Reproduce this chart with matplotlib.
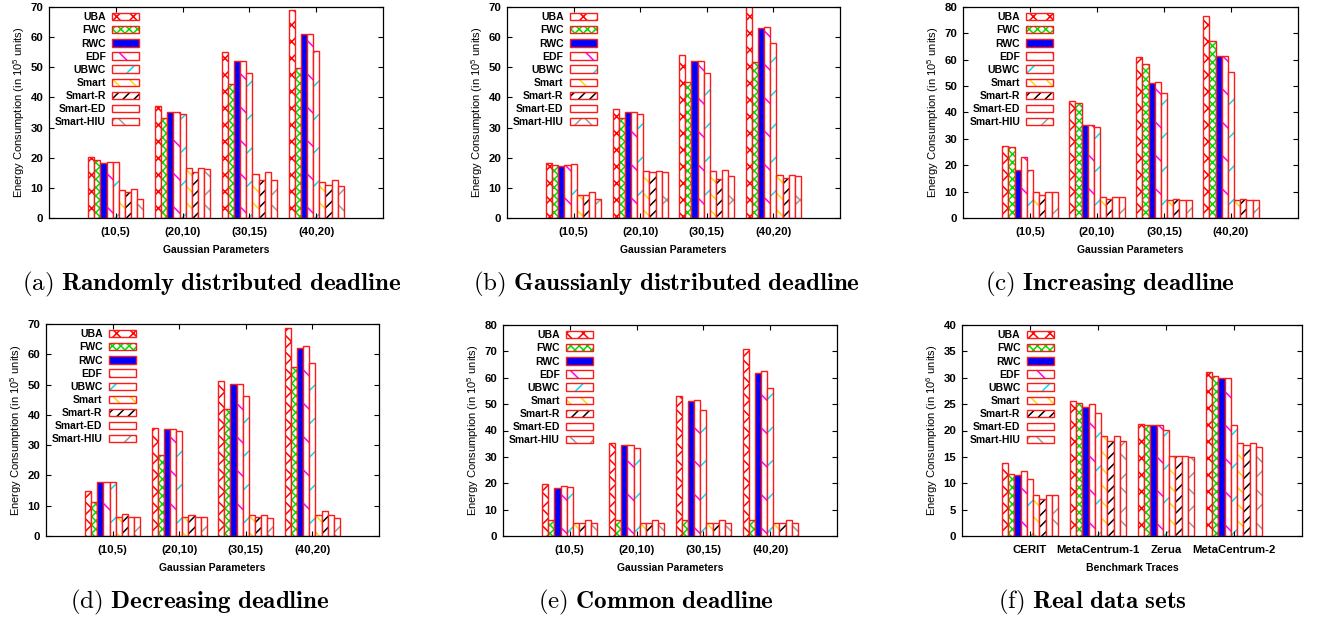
import numpy as np
import matplotlib
matplotlib.use('Agg')
import matplotlib.pyplot as plt
from matplotlib.patches import Patch

plt.rcParams['font.family'] = ['Liberation Sans', 'DejaVu Sans']
plt.rcParams['mathtext.fontset'] = 'custom'
plt.rcParams['mathtext.rm'] = 'Liberation Sans'
plt.rcParams['mathtext.it'] = 'Liberation Sans:italic'
plt.rcParams['mathtext.bf'] = 'Liberation Sans:bold'
plt.rcParams['hatch.linewidth'] = 1.1

algorithms = ['UBA', 'FWC', 'RWC', 'EDF', 'UBWC', 'Smart', 'Smart-R', 'Smart-ED', 'Smart-HIU']
gauss_params = ['(10,5)', '(20,10)', '(30,15)', '(40,20)']
traces = ['CERIT', 'MetaCentrum-1', 'Zerua', 'MetaCentrum-2']

# one row per algorithm (same order as above), one column per category
random_deadline = [
    [20.2, 37.0, 55.2, 69.1],
    [19.2, 33.2, 44.4, 49.8],
    [18.2, 35.2, 52.1, 61.1],
    [18.6, 35.2, 52.2, 61.1],
    [18.5, 34.5, 48.2, 55.4],
    [9.3, 16.6, 14.7, 12.1],
    [8.6, 15.3, 12.7, 11.0],
    [9.5, 16.6, 15.4, 12.7],
    [6.3, 16.2, 12.7, 10.6],
]

gaussian_deadline = [
    [18.4, 36.2, 54.1, 71.0],
    [17.6, 33.2, 45.0, 51.8],
    [17.3, 35.2, 52.0, 63.1],
    [17.6, 35.3, 52.0, 63.2],
    [17.8, 34.4, 48.1, 57.9],
    [7.5, 15.5, 15.5, 14.2],
    [7.5, 15.2, 13.1, 13.3],
    [8.5, 15.5, 15.8, 14.2],
    [6.3, 15.3, 13.9, 13.9],
]

increasing_deadline = [
    [27.2, 44.2, 60.9, 76.6],
    [26.8, 43.6, 58.5, 67.0],
    [18.1, 35.1, 51.1, 61.3],
    [23.3, 35.1, 51.6, 61.3],
    [18.3, 34.5, 47.3, 55.4],
    [9.7, 7.8, 6.8, 6.7],
    [8.6, 7.2, 7.1, 7.1],
    [9.7, 7.8, 6.8, 6.7],
    [9.7, 7.8, 6.8, 6.7],
]

decreasing_deadline = [
    [14.7, 35.5, 51.2, 68.8],
    [11.3, 26.7, 42.0, 55.8],
    [17.7, 35.2, 50.1, 62.1],
    [17.8, 35.2, 50.2, 62.7],
    [17.9, 34.6, 46.2, 57.0],
    [6.3, 6.4, 6.8, 6.8],
    [7.1, 6.8, 6.4, 8.1],
    [6.3, 6.4, 6.8, 6.8],
    [6.3, 6.2, 6.1, 6.1],
]

common_deadline = [
    [19.7, 35.2, 53.2, 71.0],
    [6.1, 6.1, 6.1, 6.1],
    [18.2, 34.4, 51.3, 61.9],
    [18.9, 34.4, 51.6, 62.7],
    [18.4, 33.5, 47.8, 56.1],
    [4.9, 4.9, 4.9, 4.9],
    [4.9, 4.9, 4.9, 4.9],
    [6.1, 6.1, 6.1, 6.1],
    [4.9, 4.9, 4.9, 4.9],
]

real_traces = [
    [13.8, 25.6, 21.3, 31.1],
    [11.8, 25.3, 21.1, 30.4],
    [11.5, 24.5, 21.1, 29.9],
    [12.3, 25.0, 21.0, 30.0],
    [10.8, 23.4, 20.1, 21.1],
    [7.8, 19.0, 15.1, 17.7],
    [7.1, 18.0, 15.1, 17.3],
    [7.8, 19.0, 15.2, 17.7],
    [7.8, 18.0, 15.0, 16.9],
]

# gnuplot-like look: red outline, colored pattern inside
edge = '#ff1a1a'
hatch_colors = ['#ff0000', '#00dd00', '#0000ff', '#ff00ff', '#00e0f0',
                '#ffd800', '#000000', '#ffffff', '#9a9a9a']
hatches = ['xx', 'xxxx', None, '\\', '/', '\\\\', '///', None, 'x']
faces = ['white', 'white', '#0000ff', 'white', 'white', 'white', 'white', 'white', 'white']


def draw_panel(ax, categories, values, ymax, ystep, xlabel, exp):
    x = np.arange(len(categories))
    w = 0.092
    n = len(values)
    for j, serie in enumerate(values):
        pos = x + (j - (n - 1) / 2) * w
        ax.bar(pos, serie, w, color=faces[j], edgecolor=hatch_colors[j],
               hatch=hatches[j], linewidth=0)
        ax.bar(pos, serie, w, fill=False, edgecolor=edge, linewidth=1.0)

    ax.set_xlim(-1, 4)
    ax.set_ylim(0, ymax)
    ax.set_yticks(np.arange(0, ymax + 0.1, ystep))
    ax.set_xticks(x)
    ax.set_xticklabels(categories)
    ax.tick_params(direction='in', top=True, right=True, length=3.5, width=0.8,
                   labelsize=8.2)
    ax.tick_params(axis='x', pad=6.5)
    ax.tick_params(axis='y', pad=4)
    for lab in ax.get_xticklabels() + ax.get_yticklabels():
        lab.set_fontweight('bold')
    for s in ax.spines.values():
        s.set_linewidth(0.9)

    ax.set_xlabel(xlabel, fontsize=7.5, fontweight='bold', labelpad=6)
    ax.set_ylabel('Energy Consumption (in 10$^{%d}$ units)' % exp, fontsize=8)
    ax.yaxis.set_label_coords(-0.066, 0.5)

    handles = []
    for j in range(n):
        handles.append((Patch(facecolor=faces[j], edgecolor=hatch_colors[j],
                              hatch=hatches[j], linewidth=0),
                        Patch(fill=False, edgecolor=edge, linewidth=1.0)))
    ax.legend(handles, algorithms, loc='upper right', bbox_to_anchor=(0.27, 0.975),
              markerfirst=False, frameon=False, handlelength=2.6, handleheight=0.7,
              handletextpad=0.6, labelspacing=0.3, borderpad=0, borderaxespad=0,
              prop=dict(weight='bold', size=7.5))


fig = plt.figure(figsize=(13.2, 6.18), dpi=100)
W, H = 1320, 618


def add_axes(left, right, top, bottom):
    return fig.add_axes([left / W, 1 - bottom / H, (right - left) / W, (bottom - top) / H])


panels = [
    (add_axes(49, 383, 7, 218), gauss_params, random_deadline, 70, 10, 'Gaussian Parameters', 5),
    (add_axes(507, 840, 7, 218), gauss_params, gaussian_deadline, 70, 10, 'Gaussian Parameters', 5),
    (add_axes(963, 1298, 7, 218), gauss_params, increasing_deadline, 80, 10, 'Gaussian Parameters', 5),
    (add_axes(46, 379, 324, 536), gauss_params, decreasing_deadline, 70, 10, 'Gaussian Parameters', 5),
    (add_axes(503, 837, 325, 536), gauss_params, common_deadline, 80, 10, 'Gaussian Parameters', 5),
    (add_axes(962, 1302, 325, 536), traces, real_traces, 40, 5, 'Benchmark Traces', 6),
]
for ax, cats, vals, ymax, ystep, xl, exp in panels:
    draw_panel(ax, cats, vals, ymax, ystep, xl, exp)

captions = [
    (212, 284, 'a', r'Randomly\ distributed\ deadline'),
    (666, 284, 'b', r'Gaussianly\ distributed\ deadline'),
    (1110, 284, 'c', r'Increasing\ deadline'),
    (200, 602, 'd', r'Decreasing\ deadline'),
    (656, 602, 'e', r'Common\ deadline'),
    (1092, 602, 'f', r'Real\ data\ sets'),
]
for cx, cy, letra, texto in captions:
    fig.text(cx / W, 1 - cy / H, r'$\mathrm{(%s)}\ \mathbf{%s}$' % (letra, texto),
             ha='center', va='center', fontsize=18, math_fontfamily='cm')

plt.savefig('out.png', dpi=100)
